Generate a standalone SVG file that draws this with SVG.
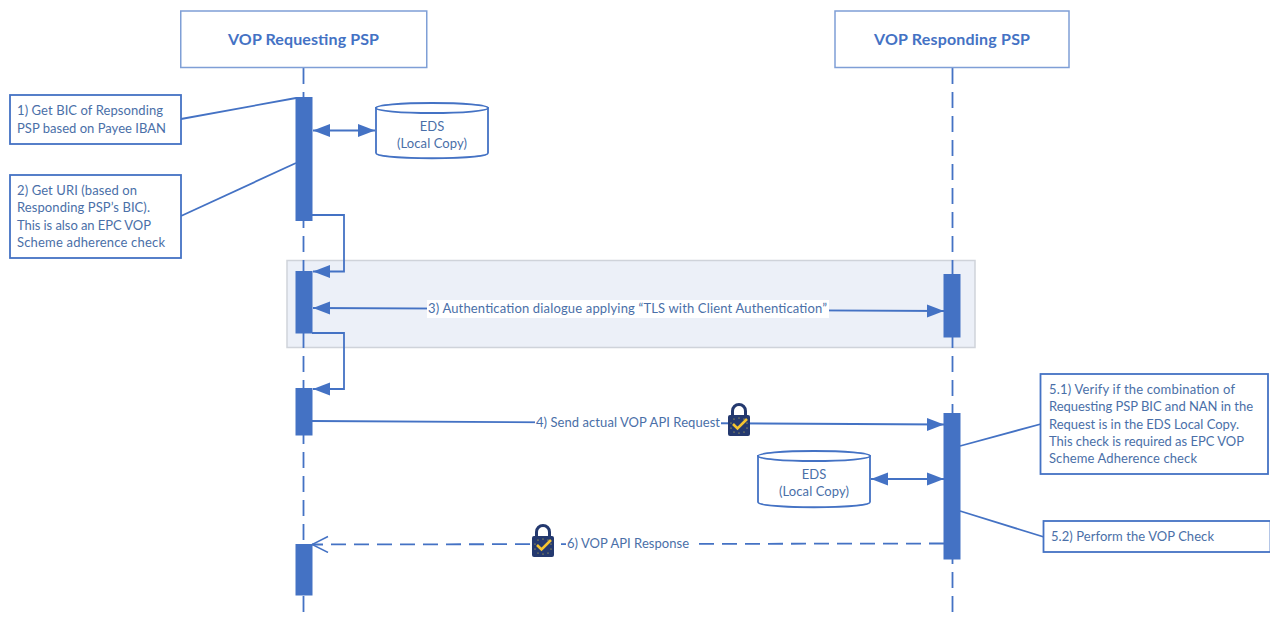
<svg xmlns="http://www.w3.org/2000/svg" width="1270" height="619" viewBox="0 0 1270 619">
<style>
text{font-family:Lato,"Open Sans","Liberation Sans",sans-serif;font-size:13px;fill:#4a6fa8}
.box{fill:#fff;stroke:#4472c4;stroke-width:1.8}
.head{fill:#fff;stroke:#7f9fd6;stroke-width:1.5}
.title{font-size:16px;font-weight:700;fill:#4472c4;text-anchor:middle}
.mid{text-anchor:middle}
.ln{fill:none;stroke:#4472c4;stroke-width:1.8}
.life{fill:none;stroke:#4472c4;stroke-width:1.8;stroke-dasharray:16 8}
.dash{fill:none;stroke:#4472c4;stroke-width:1.8;stroke-dasharray:15 8}
.act{fill:#4472c4}
.lbl{fill:#fff}
</style>
<defs>
<marker id="a" markerUnits="userSpaceOnUse" markerWidth="18" markerHeight="14" refX="17" refY="7" orient="auto-start-reverse"><path d="M0,0.5L17,7L0,13.5Z" fill="#4472c4"/></marker>
<marker id="o" markerUnits="userSpaceOnUse" markerWidth="18" markerHeight="18" refX="17" refY="9" orient="auto"><path d="M1,1L17,9L1,17" fill="none" stroke="#4472c4" stroke-width="1.5"/></marker>
<g id="lock">
<path d="M-6.5,-5V-9a6.5,6.5 0 0 1 13,0V-5" fill="none" stroke="#24396f" stroke-width="3"/>
<rect x="-11" y="-5" width="22" height="21" rx="2" fill="#24396f"/>
<g fill="#e8d24a"><circle cx="0" cy="-2" r=".6"/><circle cx="-5" cy="-1" r=".6"/><circle cx="5" cy="-1" r=".6"/><circle cx="-8" cy="3" r=".6"/><circle cx="8" cy="3" r=".6"/><circle cx="-8" cy="8" r=".6"/><circle cx="8" cy="8" r=".6"/><circle cx="-5" cy="12" r=".6"/><circle cx="5" cy="12" r=".6"/><circle cx="0" cy="13" r=".6"/></g>
<path d="M-6,4L-1.5,8.5L8,-1" fill="none" stroke="#f4c430" stroke-width="2.6"/>
</g>
</defs>
<rect id="band" x="287" y="260.500" width="688" height="87" fill="#ecf0f8" stroke="#cfd3da" stroke-width="1.5"/>
<g id="lifelines">
<path class="life" d="M303.500,68V619"/>
<path class="life" d="M952.500,68V619"/>
</g>
<g id="connectors">
<path class="ln" d="M181,119L296,98"/>
<path class="ln" d="M181,216L296,163"/>
<path class="ln" d="M960,446L1041,424"/>
<path class="ln" d="M960,511L1044,537"/>
<path class="ln" d="M313,130.500H375" marker-start="url(#a)" marker-end="url(#a)"/>
<path class="ln" d="M871,479H944" marker-start="url(#a)" marker-end="url(#a)"/>
<path class="ln" d="M312,215H344V271.500H313" marker-end="url(#a)"/>
<path class="ln" d="M312,333H344V389H313" marker-end="url(#a)"/>
<path class="ln" d="M313,308L944,311" marker-start="url(#a)" marker-end="url(#a)"/>
<path class="ln" d="M312,421L944,424.500" marker-end="url(#a)"/>
<path class="dash" d="M944,543.500L312,544.500" marker-end="url(#o)"/>
</g>
<g id="requesting-psp"><rect class="head" x="180.750" y="11" width="246" height="56.500"/><text class="title" x="303.500" y="45" textLength="151">VOP Requesting PSP</text></g>
<g id="responding-psp"><rect class="head" x="835" y="11" width="234" height="56.500"/><text class="title" x="952" y="45" textLength="156">VOP Responding PSP</text></g>
<g id="activations">
<rect class="act" x="295.500" y="97" width="17" height="124"/>
<rect class="act" x="295.500" y="271" width="17" height="62.500"/>
<rect class="act" x="295.500" y="388" width="17" height="47.500"/>
<rect class="act" x="295.500" y="544" width="17" height="51.500"/>
<rect class="act" x="943.500" y="274" width="17" height="63.500"/>
<rect class="act" x="943.500" y="413" width="17" height="146.500"/>
</g>
<g id="note-1"><rect class="box" x="10" y="95" width="171" height="49"/><text x="17" y="115" textLength="146">1) Get BIC of Repsonding</text><text x="17" y="133" textLength="149">PSP based on Payee IBAN</text></g>
<g id="note-2"><rect class="box" x="10" y="175" width="171" height="83"/><text x="17" y="195" textLength="120">2) Get URI (based on</text><text x="17" y="212" textLength="133">Responding PSP’s BIC).</text><text x="17" y="230" textLength="134">This is also an EPC VOP</text><text x="17" y="247" textLength="148">Scheme adherence check</text></g>
<g id="eds-1"><path class="box" d="M376,108V153C376,160 488,160 488,153V108Z"/><ellipse class="box" cx="432" cy="108" rx="56" ry="5"/><text class="mid" x="432" y="131">EDS</text><text class="mid" x="432" y="148" textLength="70">(Local Copy)</text></g>
<g id="eds-2"><path class="box" d="M758,456V502C758,509 870,509 870,502V456Z"/><ellipse class="box" cx="814" cy="456" rx="56" ry="5"/><text class="mid" x="814" y="479">EDS</text><text class="mid" x="814" y="496" textLength="70">(Local Copy)</text></g>
<g id="note-51"><rect class="box" x="1040.500" y="374" width="227.500" height="100"/><text x="1049" y="394" textLength="186">5.1) Verify if the combination of</text><text x="1049" y="411" textLength="204">Requesting PSP BIC and NAN in the</text><text x="1049" y="429" textLength="190">Request is in the EDS Local Copy.</text><text x="1049" y="446" textLength="195">This check is required as EPC VOP</text><text x="1049" y="463" textLength="148">Scheme Adherence check</text></g>
<g id="note-52"><rect class="box" x="1043.500" y="521" width="227" height="31"/><text x="1051" y="541" textLength="163">5.2) Perform the VOP Check</text></g>
<g id="label-3"><rect class="lbl" x="427" y="300" width="402" height="18"/><text x="428" y="313" textLength="399">3) Authentication dialogue applying “TLS with Client Authentication”</text></g>
<g id="label-4"><rect class="lbl" x="535" y="414" width="186" height="17"/><text x="536" y="427" textLength="184">4) Send actual VOP API Request</text></g>
<g id="label-6"><rect class="lbl" x="566" y="536" width="127" height="17"/><text x="567" y="548" textLength="122">6) VOP API Response</text></g>
<use id="lock-1" href="#lock" x="739" y="420"/>
<use id="lock-2" href="#lock" x="543" y="541"/>
</svg>
